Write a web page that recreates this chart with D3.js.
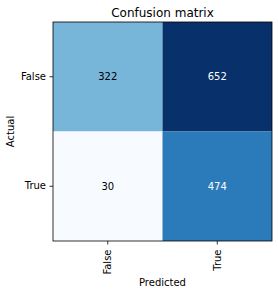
<!DOCTYPE html>
<html>
<head>
<meta charset="utf-8">
<script src="https://cdn.jsdelivr.net/npm/d3@7"></script>
<style>
  body { margin: 0; background: #fff; }
  text { font-family: "DejaVu Sans", sans-serif; }
</style>
</head>
<body>
<div id="chart"></div>
<script>
const width = 278;
const height = 294;

const actualLabels = ["False", "True"];
const predictedLabels = ["False", "True"];
const counts = [
  [322, 652],
  [30, 474]
];

// matplotlib "Blues" anchors
const bluesStops = ["#f7fbff", "#deebf7", "#c6dbef", "#9ecae1", "#6baed6", "#4292c6", "#2171b5", "#08519c", "#08306b"];

const marginLeft = 53, marginTop = 22, size = 219;

const svg = d3.select("#chart")
  .append("svg")
  .attr("width", width)
  .attr("height", height);

const flat = counts.flat();
const vmin = d3.min(flat), vmax = d3.max(flat);

const t = d3.scaleLinear().domain([vmin, vmax]).range([0, 1]);
const blues = d3.scaleLinear()
  .domain(d3.range(bluesStops.length).map(i => i / (bluesStops.length - 1)))
  .range(bluesStops)
  .interpolate(d3.interpolateRgb);

const x = d3.scaleBand().domain(predictedLabels).range([marginLeft, marginLeft + size]);
const y = d3.scaleBand().domain(actualLabels).range([marginTop, marginTop + size]);

const cells = [];
actualLabels.forEach((a, i) => predictedLabels.forEach((p, j) => cells.push({ a, p, v: counts[i][j] })));

svg.append("g")
  .selectAll("rect")
  .data(cells)
  .enter().append("rect")
  .attr("x", d => x(d.p))
  .attr("y", d => y(d.a))
  .attr("width", x.bandwidth())
  .attr("height", y.bandwidth())
  .attr("fill", d => blues(t(d.v)));

const thresh = vmax / 2;
svg.append("g")
  .selectAll("text")
  .data(cells)
  .enter().append("text")
  .attr("x", d => x(d.p) + x.bandwidth() / 2)
  .attr("y", d => y(d.a) + y.bandwidth() / 2)
  .attr("text-anchor", "middle")
  .attr("dy", "0.35em")
  .style("font-size", "10px")
  .attr("fill", d => d.v > thresh ? "#fff" : "#000")
  .text(d => d.v);

// frame
svg.append("rect")
  .attr("x", marginLeft).attr("y", marginTop)
  .attr("width", size).attr("height", size)
  .attr("fill", "none")
  .attr("stroke", "#000")
  .attr("stroke-width", 0.8);

// axes
const yAxis = svg.append("g")
  .attr("transform", `translate(${marginLeft},0)`)
  .call(d3.axisLeft(y).tickSize(3.5).tickPadding(3.5));
yAxis.select(".domain").remove();
yAxis.selectAll("text").style("font-size", "10px").attr("fill", "#000").style("font-family", "DejaVu Sans");
yAxis.selectAll("line").attr("stroke-width", 0.8);

const xAxis = svg.append("g")
  .attr("transform", `translate(0,${marginTop + size})`)
  .call(d3.axisBottom(x).tickSize(3.5).tickPadding(3.5));
xAxis.select(".domain").remove();
xAxis.selectAll("line").attr("stroke-width", 0.8);
xAxis.selectAll("text")
  .style("font-size", "10px")
  .style("font-family", "DejaVu Sans")
  .attr("fill", "#000")
  .attr("transform", "rotate(-90)")
  .attr("text-anchor", "end")
  .attr("x", -8.5)
  .attr("y", 0)
  .attr("dy", "0.35em");

// labels
svg.append("text")
  .attr("x", marginLeft + size / 2)
  .attr("y", 17)
  .attr("text-anchor", "middle")
  .style("font-size", "12px")
  .text("Confusion matrix");

svg.append("text")
  .attr("x", marginLeft + size / 2)
  .attr("y", 286)
  .attr("text-anchor", "middle")
  .style("font-size", "10px")
  .text("Predicted");

svg.append("text")
  .attr("transform", `translate(14,${marginTop + size / 2}) rotate(-90)`)
  .attr("text-anchor", "middle")
  .style("font-size", "10px")
  .text("Actual");
</script>
</body>
</html>
